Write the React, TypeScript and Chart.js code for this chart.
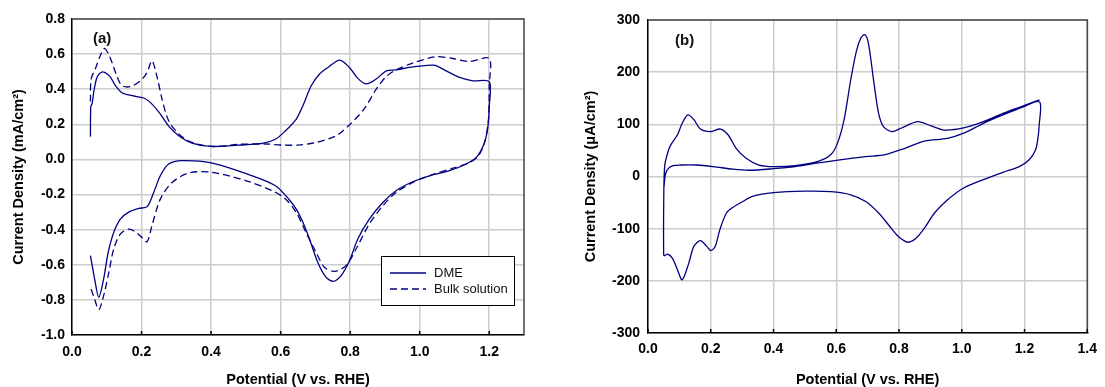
import React, { useEffect, useRef } from 'react';
import { Chart, registerables } from 'chart.js';

Chart.register(...registerables);

const FONT = "'Liberation Sans', Arial, Helvetica, sans-serif";
const LINE_COLOR = '#000080';

// ---- Panel (a) data ----
const seriesLabelsA = ['DME', 'Bulk solution'];

const dmeV = [
  0.053, 0.054, 0.058, 0.063, 0.072, 0.083, 0.094, 0.11, 0.125, 0.144, 0.173, 0.206, 0.225, 0.25, 0.278, 0.307,
  0.345, 0.40, 0.48, 0.547, 0.585, 0.614, 0.645, 0.664, 0.688, 0.712, 0.736, 0.77, 0.798, 0.822, 0.846, 0.875,
  0.904, 0.932, 0.97, 1.04, 1.076, 1.115, 1.153, 1.2,
  1.2, 1.197, 1.19, 1.18, 1.163, 1.134, 1.086, 1.028, 0.98, 0.932, 0.894, 0.855, 0.822, 0.798, 0.774, 0.752,
  0.731, 0.707, 0.683, 0.664, 0.645, 0.623, 0.585, 0.518, 0.40, 0.317, 0.278, 0.254, 0.235, 0.216, 0.192, 0.163,
  0.139, 0.12, 0.104, 0.091, 0.077, 0.065, 0.053,
];
const dmeJ = [
  0.13, 0.30, 0.32, 0.39, 0.468, 0.495, 0.496, 0.47, 0.42, 0.38, 0.363, 0.35, 0.325, 0.27, 0.19, 0.135,
  0.093, 0.074, 0.082, 0.091, 0.115, 0.163, 0.23, 0.306, 0.42, 0.487, 0.524, 0.566, 0.524, 0.462, 0.43, 0.458,
  0.505, 0.51, 0.524, 0.537, 0.505, 0.467, 0.448, 0.443,
  0.30, 0.20, 0.12, 0.065, 0.012, -0.026, -0.064, -0.093, -0.127, -0.178, -0.245, -0.34, -0.453, -0.577, -0.662, -0.694,
  -0.672, -0.587, -0.453, -0.358, -0.283, -0.225, -0.15, -0.093, -0.02, -0.007, -0.026, -0.093, -0.188, -0.269, -0.279, -0.30,
  -0.34, -0.416, -0.53, -0.68, -0.785, -0.68, -0.548,
];

const bulkV = [
  0.053, 0.055, 0.067, 0.08, 0.093, 0.105, 0.115, 0.13, 0.144, 0.168, 0.197, 0.216, 0.23, 0.245, 0.259, 0.278,
  0.307, 0.345, 0.40, 0.48, 0.556, 0.604, 0.65, 0.702, 0.76, 0.80, 0.84, 0.875, 0.904, 0.932, 0.98, 1.047,
  1.095, 1.143, 1.2,
  1.2, 1.198, 1.188, 1.169, 1.14, 1.095, 1.028, 0.98, 0.932, 0.894, 0.855, 0.817, 0.788, 0.755, 0.726, 0.702,
  0.673, 0.645, 0.614, 0.576, 0.499, 0.40, 0.336, 0.288, 0.254, 0.23, 0.216, 0.201, 0.182, 0.163, 0.139, 0.12,
  0.106, 0.091, 0.077, 0.065, 0.053,
];
const bulkJ = [
  0.33, 0.458, 0.515, 0.585, 0.632, 0.60, 0.553, 0.47, 0.42, 0.415, 0.448, 0.496, 0.562, 0.467, 0.344, 0.22,
  0.145, 0.097, 0.074, 0.086, 0.088, 0.082, 0.082, 0.097, 0.135, 0.201, 0.287, 0.40, 0.473, 0.51, 0.549, 0.585,
  0.575, 0.558, 0.575,
  0.42, 0.23, 0.107, 0.02, -0.021, -0.05, -0.093, -0.131, -0.188, -0.264, -0.368, -0.51, -0.605, -0.637, -0.614, -0.53,
  -0.416, -0.302, -0.225, -0.178, -0.12, -0.073, -0.077, -0.131, -0.226, -0.377, -0.469, -0.444, -0.412, -0.397, -0.425, -0.51,
  -0.643, -0.776, -0.856, -0.795, -0.728,
];

// ---- Panel (b) data ----
const cvV = [
  0.051, 0.056, 0.066, 0.08, 0.104, 0.156, 0.208, 0.271, 0.323, 0.40, 0.469, 0.542, 0.60, 0.694, 0.756, 0.819,
  0.881, 0.954, 1.006, 1.069, 1.131, 1.194, 1.248,
  1.247, 1.242, 1.235, 1.215, 1.183, 1.131, 1.069, 1.006, 0.954, 0.913, 0.881, 0.855, 0.829, 0.798, 0.767, 0.735,
  0.694, 0.646, 0.583, 0.50, 0.40, 0.333, 0.302, 0.271, 0.25, 0.229, 0.214, 0.20, 0.1875, 0.167, 0.146, 0.13,
  0.109, 0.094, 0.078, 0.0625, 0.052,
  0.05, 0.05, 0.053, 0.0625, 0.073, 0.094, 0.109, 0.127, 0.146, 0.167, 0.198, 0.231, 0.255, 0.281, 0.3125, 0.354,
  0.40, 0.469, 0.542, 0.583, 0.604, 0.625, 0.646, 0.664, 0.678, 0.69, 0.70, 0.709, 0.72, 0.735, 0.75, 0.777, 0.808,
  0.86, 0.902, 0.944, 1.006, 1.069, 1.131, 1.194, 1.248,
];
const cvJ = [
  -20, 5, 16, 21, 22, 22, 19, 14, 12, 15, 19, 26, 31, 38, 42, 54,
  68, 73, 83, 102, 118, 133, 143,
  100, 70, 51, 32, 19, 8, -6, -22, -45, -70, -99, -118, -126, -115, -93, -70,
  -48, -35, -29, -28, -31, -38, -48, -59, -70, -102, -134, -142, -134, -123, -134, -166,
  -198, -179, -157, -149, -152,
  -150, -57, 19, 45, 61, 80, 102, 118, 109, 91, 86, 91, 80, 54, 35, 22,
  19, 21, 29, 42, 64, 109, 185, 240, 265, 272, 262, 230, 180, 121, 96, 86, 93,
  105, 97, 89, 93, 105, 121, 135, 147,
];

const xTicksA = { min: 0, max: 1.3, step: 0.2 };
const yTicksA = { min: -1.0, max: 0.8, step: 0.2 };
const xTicksB = { min: 0, max: 1.4, step: 0.2 };
const yTicksB = { min: -300, max: 300, step: 100 };

const pts = (xs: number[], ys: number[]) => xs.map((x, i) => ({ x, y: ys[i] }));

const frameLabelPlugin = (tag: string, tagX: number, tagY: number, withLegend: boolean) => ({
  id: 'frameLabel' + tag,
  afterDraw(chart: any) {
    const { ctx, chartArea } = chart;
    const { left, right, top, bottom } = chartArea;
    ctx.save();
    // top and right frame
    ctx.strokeStyle = '#444';
    ctx.lineWidth = 1.5;
    ctx.beginPath();
    ctx.moveTo(left, top);
    ctx.lineTo(right, top);
    ctx.lineTo(right, bottom);
    ctx.stroke();
    // small inward tick marks on bottom axis
    const xs = chart.scales.x;
    ctx.strokeStyle = '#000';
    ctx.lineWidth = 1.5;
    xs.ticks.forEach((t: any) => {
      const px = xs.getPixelForValue(t.value);
      ctx.beginPath();
      ctx.moveTo(px, bottom);
      ctx.lineTo(px, bottom - 4);
      ctx.stroke();
    });
    // panel tag
    ctx.fillStyle = '#111';
    ctx.font = `bold 15px ${FONT}`;
    ctx.textAlign = 'left';
    ctx.textBaseline = 'middle';
    ctx.fillText(tag, tagX, tagY);
    if (withLegend) {
      const bx = 381, by = 256, bw = 133, bh = 49;
      ctx.fillStyle = '#fff';
      ctx.fillRect(bx, by, bw, bh);
      ctx.strokeStyle = '#000';
      ctx.lineWidth = 1;
      ctx.strokeRect(bx + 0.5, by + 0.5, bw, bh);
      ctx.font = `13px ${FONT}`;
      chart.data.datasets.forEach((ds: any, i: number) => {
        const yy = 273 + i * 16;
        ctx.strokeStyle = ds.borderColor;
        ctx.lineWidth = 1.3;
        ctx.setLineDash(ds.borderDash || []);
        ctx.beginPath();
        ctx.moveTo(390, yy);
        ctx.lineTo(426, yy);
        ctx.stroke();
        ctx.setLineDash([]);
        ctx.fillStyle = '#111';
        ctx.fillText(ds.label, 434, yy);
      });
    }
    ctx.restore();
  },
});

function axis(
  lim: { min: number; max: number; step: number },
  title: string,
  isX: boolean,
  size: number,
  tickPad: number,
  titlePad: number,
  decimals: number,
) {
  return {
    type: 'linear',
    min: lim.min,
    max: lim.max,
    ticks: {
      stepSize: lim.step,
      includeBounds: false,
      autoSkip: false,
      maxRotation: 0,
      padding: tickPad,
      color: '#000',
      font: { family: FONT, size: 14, weight: 'bold' },
      callback: (v: any) => Number(v).toFixed(decimals),
    },
    grid: { color: '#cccccc', lineWidth: 1.5, drawTicks: false },
    border: { color: '#000', width: 1.5 },
    title: {
      display: true,
      text: title,
      color: '#000',
      font: { family: FONT, size: 14.5, weight: 'bold', lineHeight: 1 },
      padding: isX ? { top: 0, bottom: titlePad } : { top: titlePad, bottom: 0 },
    },
    afterFit: (s: any) => {
      if (isX) s.height = size;
      else s.width = size;
    },
  };
}

function Panel(props: { config: any; width: number; height: number }) {
  const ref = useRef<HTMLCanvasElement | null>(null);
  useEffect(() => {
    if (!ref.current) return;
    const chart = new Chart(ref.current, props.config);
    return () => chart.destroy();
  }, []);
  return <canvas ref={ref} width={props.width} height={props.height} style={{ display: 'block' }} />;
}

const configA = {
  type: 'scatter',
  data: {
    datasets: [
      {
        label: seriesLabelsA[0],
        data: pts(dmeV, dmeJ),
        showLine: true,
        borderColor: LINE_COLOR,
        borderWidth: 1.3,
        pointRadius: 0,
        tension: 0.3,
        fill: false,
      },
      {
        label: seriesLabelsA[1],
        data: pts(bulkV, bulkJ),
        showLine: true,
        borderColor: LINE_COLOR,
        borderWidth: 1.3,
        borderDash: [7, 4],
        pointRadius: 0,
        tension: 0.3,
        fill: false,
      },
    ],
  },
  options: {
    responsive: false,
    animation: false,
    layout: { padding: { top: 19, right: 28, left: 0, bottom: 0 } },
    plugins: { legend: { display: false }, tooltip: { enabled: false } },
    scales: {
      x: axis(xTicksA, 'Potential (V vs. RHE)', true, 52, 9, 0, 1),
      y: axis(yTicksA, 'Current Density (mA/cm²)', false, 72, 7, 12, 1),
    },
  },
  plugins: [frameLabelPlugin('(a)', 93, 39, true)],
};

const configB = {
  type: 'scatter',
  data: {
    datasets: [
      {
        label: 'CV',
        data: pts(cvV, cvJ),
        showLine: true,
        borderColor: LINE_COLOR,
        borderWidth: 1.3,
        pointRadius: 0,
        tension: 0.3,
        fill: false,
      },
    ],
  },
  options: {
    responsive: false,
    animation: false,
    layout: { padding: { top: 20, right: 9, left: 0, bottom: 0 } },
    plugins: { legend: { display: false }, tooltip: { enabled: false } },
    scales: {
      x: axis(xTicksB, 'Potential (V vs. RHE)', true, 54, 8, 0, 1),
      y: axis(yTicksB, 'Current Density (μA/cm²)', false, 96, 8, 32, 0),
    },
  },
  plugins: [frameLabelPlugin('(b)', 123, 41, false)],
};

export default function App() {
  return (
    <div
      style={{
        position: 'fixed',
        left: 0,
        top: 0,
        width: 1105,
        height: 387,
        display: 'flex',
        background: '#fff',
        overflow: 'hidden',
      }}
    >
      <Panel config={configA} width={552} height={387} />
      <Panel config={configB} width={553} height={387} />
    </div>
  );
}
